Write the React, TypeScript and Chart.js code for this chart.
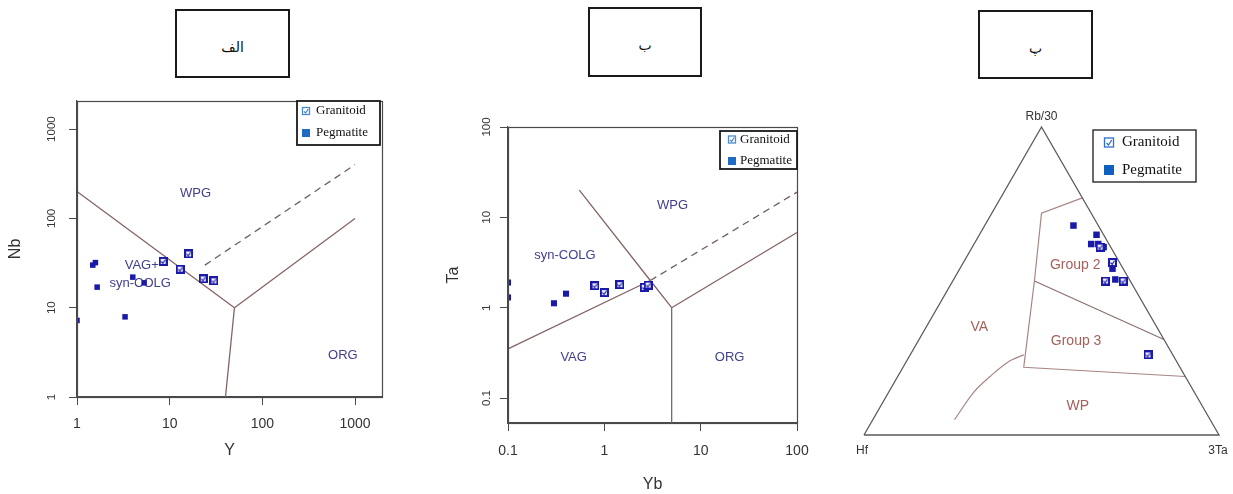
import React, { useEffect, useRef } from "react";
import { Chart, registerables } from "chart.js";

Chart.register(...registerables);

const SANS = "'Liberation Sans', Arial, Helvetica, sans-serif";
const SERIF = "'Liberation Serif', 'Times New Roman', Times, serif";
const ARABIC = "'DejaVu Sans', 'Noto Sans', sans-serif";

// ================= DATA =================
const panelTitles = ["الف", "ب", "پ"];
const seriesNames = ["Granitoid", "Pegmatite"];

// ---- الف : Nb vs Y ----
const nbYTickValues = [1, 10, 100, 1000];
const nbYRangeY = [1, 1955];
const nbYRangeNb = [1, 2070];
const nbYGranitoidY = [8.5, 13, 16, 23, 30];
const nbYGranitoidNb = [33, 27, 40, 21, 20];
const nbYPegmatiteY = [1, 1.48, 1.58, 1.65, 3.3, 4, 5.3];
const nbYPegmatiteNb = [7.2, 30, 32, 17, 7.9, 22, 19];
const nbYLineWpgY = [1, 50];
const nbYLineWpgNb = [200, 10];
const nbYLineVagOrgY = [50, 40];
const nbYLineVagOrgNb = [10, 1];
const nbYLineWpgOrgY = [50, 1000];
const nbYLineWpgOrgNb = [10, 100];
const nbYDashY = [24, 1000];
const nbYDashNb = [30, 400];
const nbYFieldNames = ["WPG", "VAG+", "syn-COLG", "ORG"];
const nbYFieldY = [19, 5, 4.8, 740];
const nbYFieldNb = [190, 30, 18.8, 2.9];

// ---- ب : Ta vs Yb ----
const taYbTickValues = [0.1, 1, 10, 100];
const taYbRangeYb = [0.1, 100];
const taYbRangeTa = [0.053, 100];
const taYbGranitoidYb = [0.8, 1.0, 1.45, 2.6, 2.85];
const taYbGranitoidTa = [1.75, 1.47, 1.8, 1.68, 1.78];
const taYbPegmatiteYb = [0.1, 0.1, 0.3, 0.4];
const taYbPegmatiteTa = [1.9, 1.3, 1.12, 1.43];
const taYbLineVagYb = [0.1, 3];
const taYbLineVagTa = [0.35, 2];
const taYbLineWpgYb = [0.55, 3, 5];
const taYbLineWpgTa = [20, 2, 1];
const taYbLineOrgVagYb = [5, 5];
const taYbLineOrgVagTa = [1, 0.053];
const taYbLineWpgOrgYb = [5, 100];
const taYbLineWpgOrgTa = [1, 6.8];
const taYbDashYb = [3, 100];
const taYbDashTa = [2, 19];
const taYbFieldNames = ["WPG", "syn-COLG", "VAG", "ORG"];
const taYbFieldYb = [5.1, 0.39, 0.48, 20];
const taYbFieldTa = [13.5, 3.8, 0.28, 0.28];

// ---- پ : Hf – Rb/30 – 3Ta (percent: [Hf, Rb/30, 3Ta]) ----
const ternVertexNames = ["Hf", "Rb/30", "3Ta"];
const ternVertices = [[100, 0, 0], [0, 100, 0], [0, 0, 100]];
const ternGroupOutline = [[0, 77, 23], [14, 72, 14], [27, 50, 23], [44, 22, 34], [0, 19, 81]];
const ternGroupDivider = [[27, 50, 23], [0, 31, 69]];
const ternVaWpCurve = [[42, 26, 32], [47, 24, 29], [55, 19, 26], [62, 14, 24], [72, 5, 23]];
const ternGranitoid = [[3, 61, 36], [2, 56, 42], [7, 50, 43], [2, 50, 48], [7, 26, 67]];
const ternPegmatite = [[7, 68, 25], [2, 65, 33], [5, 62, 33], [3, 62, 35], [2, 61, 37], [3, 54, 43], [4, 51, 46]];
const ternFieldNames = ["VA", "Group 2", "Group 3", "WP"];
const ternFieldPos = [[50, 35, 15], [13, 55, 32], [25, 30.5, 44.5], [35, 9.5, 55.5]];

// ================= LAYOUT / STYLE =================
const TITLE_BOXES = [
  { left: 175, top: 9, width: 115, height: 69 },
  { left: 588, top: 7, width: 114, height: 70 },
  { left: 978, top: 10, width: 115, height: 69 },
];
const PANEL_A = { left: 0, top: 90, width: 400, height: 390 };
const PANEL_B = { left: 430, top: 100, width: 400, height: 394 };
const PANEL_C = { left: 840, top: 90, width: 393, height: 390 };

const NAVY = "#1a1aa8";
const AXIS = "#4a4a4a";
const FIELD = "#846464";
const FIELD_C = "#a88684";

type Pt = { x: number; y: number };
const zip = (xs: number[], ys: number[]): Pt[] => xs.map((x, i) => ({ x, y: ys[i] }));
const SQ3 = Math.sqrt(3) / 2;
const tern = (t: number[]): Pt => {
  const s = t[0] + t[1] + t[2];
  const b = t[1] / s;
  const c = t[2] / s;
  return { x: c + b / 2, y: b * SQ3 };
};

Chart.defaults.font.family = SANS;
Chart.defaults.color = "#333";

function checkIcon(size: number, edge: string, inner: string): HTMLCanvasElement {
  const c = document.createElement("canvas");
  c.width = size;
  c.height = size;
  const g = c.getContext("2d")!;
  g.fillStyle = edge;
  g.fillRect(0, 0, size, size);
  g.fillStyle = inner;
  g.fillRect(2, 2, size - 4, size - 4);
  g.strokeStyle = edge;
  g.lineWidth = 1.1;
  g.beginPath();
  g.moveTo(2.5, size / 2);
  g.lineTo(size / 2 - 0.3, size - 2.7);
  g.lineTo(size - 2.5, 2.7);
  g.stroke();
  return c;
}

function boundary(data: Pt[], dashed = false, color = FIELD, width = 1.3) {
  return {
    data,
    showLine: true,
    borderColor: color,
    backgroundColor: color,
    borderWidth: width,
    borderDash: dashed ? [7, 5] : [],
    pointRadius: 0,
    fill: false,
    tension: 0,
    clip: false as const,
  };
}

function makeFramePlugin() {
  return {
    id: "frame",
    afterDatasetsDraw(chart: any) {
      const { ctx, chartArea: a } = chart;
      ctx.save();
      ctx.strokeStyle = AXIS;
      ctx.lineWidth = 1.2;
      ctx.strokeRect(Math.round(a.left) + 0.5, Math.round(a.top) + 0.5, Math.round(a.right - a.left), Math.round(a.bottom - a.top));
      ctx.restore();
    },
  };
}

function makeFieldLabels(names: string[], xs: number[], ys: number[], font: string, color: string) {
  return {
    id: "fieldLabels",
    beforeDatasetsDraw(chart: any) {
      const { ctx, scales } = chart;
      ctx.save();
      ctx.font = font;
      ctx.fillStyle = color;
      ctx.textAlign = "center";
      ctx.textBaseline = "middle";
      names.forEach((n, i) => {
        ctx.fillText(n, scales.x.getPixelForValue(xs[i]), scales.y.getPixelForValue(ys[i]));
      });
      ctx.restore();
    },
  };
}

function makeBoxLegend(cfg: {
  box: number[];
  rowsY: number[];
  iconX: number;
  textX: number;
  icon: number;
  font: string;
  openColor: string;
  fillColor: string;
  borderW: number;
}) {
  return {
    id: "boxLegend",
    afterDraw(chart: any) {
      const ctx = chart.ctx;
      const [bx, by, bw, bh] = cfg.box;
      ctx.save();
      ctx.fillStyle = "#fff";
      ctx.fillRect(bx, by, bw, bh);
      ctx.strokeStyle = "#1a1a1a";
      ctx.lineWidth = cfg.borderW;
      ctx.strokeRect(bx, by, bw, bh);
      ctx.font = cfg.font;
      ctx.textAlign = "left";
      ctx.textBaseline = "middle";
      chart.data.datasets.slice(0, 2).forEach((ds: any, i: number) => {
        const s = cfg.icon;
        const cy = cfg.rowsY[i];
        const x0 = cfg.iconX - s / 2;
        const y0 = cy - s / 2;
        if (i === 0) {
          ctx.fillStyle = "#ffffff";
          ctx.fillRect(x0, y0, s, s);
          ctx.strokeStyle = cfg.openColor;
          ctx.lineWidth = 1.3;
          ctx.strokeRect(x0 + 0.5, y0 + 0.5, s - 1, s - 1);
          ctx.beginPath();
          ctx.moveTo(x0 + s * 0.25, y0 + s * 0.55);
          ctx.lineTo(x0 + s * 0.45, y0 + s * 0.75);
          ctx.lineTo(x0 + s * 0.78, y0 + s * 0.25);
          ctx.stroke();
        } else {
          ctx.fillStyle = cfg.fillColor;
          ctx.fillRect(x0, y0, s, s);
        }
        ctx.fillStyle = "#111";
        ctx.fillText(ds.label, cfg.textX, cy);
      });
      ctx.restore();
    },
  };
}

function logAxis(o: {
  range: number[];
  ticks: number[];
  title: string;
  vertical: boolean;
  size: number;
  tickFont: number;
  tickPad: number;
  titlePad: any;
}) {
  return {
    type: "logarithmic",
    min: o.range[0],
    max: o.range[1],
    afterBuildTicks: (s: any) => {
      s.ticks = o.ticks.map((v) => ({ value: v }));
    },
    afterFit: (s: any) => {
      if (o.vertical) s.width = o.size;
      else s.height = o.size;
    },
    grid: {
      display: true,
      drawOnChartArea: false,
      drawTicks: true,
      tickLength: 8,
      color: AXIS,
      tickColor: AXIS,
      tickWidth: 1,
    },
    border: { display: true, color: AXIS, width: 1.2 },
    ticks: {
      autoSkip: false,
      font: { family: SANS, size: o.tickFont },
      color: "#333",
      padding: o.tickPad,
      callback: (v: any) => String(v),
      ...(o.vertical
        ? { minRotation: 90, maxRotation: 90, crossAlign: "center" }
        : { minRotation: 0, maxRotation: 0 }),
    },
    title: {
      display: true,
      text: o.title,
      font: { family: SANS, size: 16 },
      color: "#333",
      padding: o.titlePad,
    },
  };
}

function pointSets(gran: Pt[], peg: Pt[], icon: HTMLCanvasElement, pegRadius: number, clip: any) {
  return [
    { label: seriesNames[0], data: gran, pointStyle: icon, pointRadius: 4.5, showLine: false, clip },
    {
      label: seriesNames[1],
      data: peg,
      pointStyle: "rect",
      pointRadius: pegRadius,
      backgroundColor: NAVY,
      borderColor: NAVY,
      borderWidth: 0,
      showLine: false,
      clip,
    },
  ];
}

function buildNbY(): any {
  const icon = checkIcon(9, NAVY, "#f2f2ff");
  return {
    type: "scatter",
    data: {
      datasets: [
        ...pointSets(zip(nbYGranitoidY, nbYGranitoidNb), zip(nbYPegmatiteY, nbYPegmatiteNb), icon, 3.9, 0),
        boundary(zip(nbYLineWpgY, nbYLineWpgNb)),
        boundary(zip(nbYLineVagOrgY, nbYLineVagOrgNb)),
        boundary(zip(nbYLineWpgOrgY, nbYLineWpgOrgNb)),
        boundary(zip(nbYDashY, nbYDashNb), true, "#6e5e5e"),
      ],
    },
    options: {
      responsive: false,
      animation: false,
      events: [],
      layout: { padding: { top: 10, right: 18, left: 0, bottom: 0 } },
      plugins: { legend: { display: false }, tooltip: { enabled: false } },
      scales: {
        x: logAxis({ range: nbYRangeY, ticks: nbYTickValues, title: "Y", vertical: false, size: 83, tickFont: 14, tickPad: 11, titlePad: { top: 0, bottom: 20 } }),
        y: logAxis({ range: nbYRangeNb, ticks: nbYTickValues, title: "Nb", vertical: true, size: 77, tickFont: 11.5, tickPad: 4, titlePad: { top: 6, bottom: 0 } }),
      },
    },
    plugins: [
      makeFieldLabels(nbYFieldNames, nbYFieldY, nbYFieldNb, `13px ${SANS}`, "#40408e"),
      makeFramePlugin(),
      makeBoxLegend({ box: [297, 11, 83, 44], rowsY: [21, 43], iconX: 306, textX: 316, icon: 8, font: `13px ${SERIF}`, openColor: "#4a8ad0", fillColor: "#1f6cc4", borderW: 1.8 }),
    ],
  };
}

function buildTaYb(): any {
  const icon = checkIcon(9, NAVY, "#f2f2ff");
  return {
    type: "scatter",
    data: {
      datasets: [
        ...pointSets(zip(taYbGranitoidYb, taYbGranitoidTa), zip(taYbPegmatiteYb, taYbPegmatiteTa), icon, 4.3, 0),
        boundary(zip(taYbLineVagYb, taYbLineVagTa)),
        boundary(zip(taYbLineWpgYb, taYbLineWpgTa)),
        boundary(zip(taYbLineOrgVagYb, taYbLineOrgVagTa)),
        boundary(zip(taYbLineWpgOrgYb, taYbLineWpgOrgTa)),
        boundary(zip(taYbDashYb, taYbDashTa), true, "#6e5e5e"),
      ],
    },
    options: {
      responsive: false,
      animation: false,
      events: [],
      layout: { padding: { top: 27, right: 33, left: 0, bottom: 0 } },
      plugins: { legend: { display: false }, tooltip: { enabled: false } },
      scales: {
        x: logAxis({ range: taYbRangeYb, ticks: taYbTickValues, title: "Yb", vertical: false, size: 71, tickFont: 14, tickPad: 12, titlePad: { top: 0, bottom: 0 } }),
        y: logAxis({ range: taYbRangeTa, ticks: taYbTickValues, title: "Ta", vertical: true, size: 78, tickFont: 11.5, tickPad: 4, titlePad: { top: 14, bottom: 0 } }),
      },
    },
    plugins: [
      makeFieldLabels(taYbFieldNames, taYbFieldYb, taYbFieldTa, `13px ${SANS}`, "#40408e"),
      makeFramePlugin(),
      makeBoxLegend({ box: [290, 31, 77, 38], rowsY: [39.5, 61], iconX: 302, textX: 310, icon: 8, font: `13px ${SERIF}`, openColor: "#4a8ad0", fillColor: "#1f6cc4", borderW: 1.8 }),
    ],
  };
}

function makeTernaryLabels() {
  return {
    id: "ternLabels",
    beforeDatasetsDraw(chart: any) {
      const { ctx, scales } = chart;
      const px = (t: number[]) => {
        const p = tern(t);
        return [scales.x.getPixelForValue(p.x), scales.y.getPixelForValue(p.y)];
      };
      ctx.save();
      ctx.textAlign = "center";
      ctx.textBaseline = "middle";
      ctx.font = `14px ${SANS}`;
      ctx.fillStyle = "#a5605a";
      ternFieldNames.forEach((n, i) => {
        const [x, y] = px(ternFieldPos[i]);
        ctx.fillText(n, x, y);
      });
      ctx.font = `12px ${SANS}`;
      ctx.fillStyle = "#333";
      const offs = [[-2, 16], [0, -10], [-1, 16]];
      ternVertexNames.forEach((n, i) => {
        const [x, y] = px(ternVertices[i]);
        ctx.fillText(n, x + offs[i][0], y + offs[i][1]);
      });
      ctx.restore();
    },
  };
}

function buildTernary(): any {
  const icon = checkIcon(9, NAVY, "#f2f2ff");
  const outline = [...ternVertices, ternVertices[0]].map(tern);
  return {
    type: "scatter",
    data: {
      datasets: [
        ...pointSets(ternGranitoid.map(tern), ternPegmatite.map(tern), icon, 4.6, false),
        boundary(outline, false, "#5a5a5a", 1.3),
        boundary(ternGroupOutline.map(tern), false, FIELD_C, 1.2),
        boundary(ternGroupDivider.map(tern), false, "#8a7070", 1.2),
        { ...boundary(ternVaWpCurve.map(tern), false, FIELD_C, 1.2), tension: 0.35 },
      ],
    },
    options: {
      responsive: false,
      animation: false,
      events: [],
      layout: { padding: { top: 37, right: 14, left: 24, bottom: 45 } },
      plugins: { legend: { display: false }, tooltip: { enabled: false } },
      scales: {
        x: { type: "linear", min: 0, max: 1, display: false },
        y: { type: "linear", min: 0, max: SQ3, display: false },
      },
    },
    plugins: [
      makeTernaryLabels(),
      makeBoxLegend({ box: [253, 40, 103, 52], rowsY: [52.5, 80], iconX: 269, textX: 282, icon: 10, font: `15px ${SERIF}`, openColor: "#2f6fc8", fillColor: "#1060c0", borderW: 1.3 }),
    ],
  };
}

function ChartBox({ spec, build }: { spec: { left: number; top: number; width: number; height: number }; build: () => any }) {
  const ref = useRef<HTMLCanvasElement | null>(null);
  useEffect(() => {
    if (!ref.current) return;
    const chart = new Chart(ref.current, build());
    return () => chart.destroy();
  }, []);
  return (
    <canvas
      ref={ref}
      width={spec.width}
      height={spec.height}
      style={{ position: "absolute", left: spec.left, top: spec.top, width: spec.width, height: spec.height, display: "block" }}
    />
  );
}

export default function App() {
  return (
    <div style={{ position: "absolute", left: 0, top: 0, width: 1233, height: 494, background: "#fff", overflow: "hidden" }}>
      {TITLE_BOXES.map((b, i) => (
        <div
          key={i}
          dir="rtl"
          style={{
            position: "absolute",
            left: b.left,
            top: b.top,
            width: b.width,
            height: b.height,
            boxSizing: "border-box",
            border: "2px solid #1a1a1a",
            display: "flex",
            alignItems: "center",
            justifyContent: "center",
            paddingTop: 6,
            fontFamily: ARABIC,
            fontSize: 14,
            color: "#111",
          }}
        >
          {panelTitles[i]}
        </div>
      ))}
      <ChartBox spec={PANEL_A} build={buildNbY} />
      <ChartBox spec={PANEL_B} build={buildTaYb} />
      <ChartBox spec={PANEL_C} build={buildTernary} />
    </div>
  );
}
